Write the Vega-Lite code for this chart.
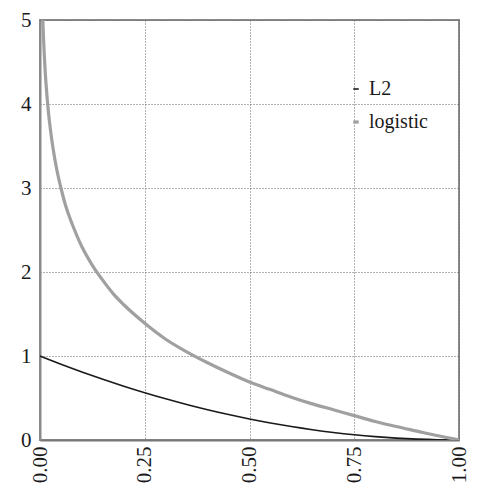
{
  "$schema": "https://vega.github.io/schema/vega-lite/v6.json",
  "width": 419,
  "height": 420,
  "autosize": {"type": "none"},
  "padding": {"left": 40, "top": 20, "right": 27, "bottom": 49},
  "background": "white",
  "config": {
    "view": {"stroke": "#8a8a8a", "strokeWidth": 2},
    "font": "Liberation Serif"
  },
  "data": {
    "values": [
      {"x": 0.0, "y": 1.0, "loss": "L2"},
      {"x": 0.05, "y": 0.9025, "loss": "L2"},
      {"x": 0.1, "y": 0.81, "loss": "L2"},
      {"x": 0.15, "y": 0.7225, "loss": "L2"},
      {"x": 0.2, "y": 0.64, "loss": "L2"},
      {"x": 0.25, "y": 0.5625, "loss": "L2"},
      {"x": 0.3, "y": 0.49, "loss": "L2"},
      {"x": 0.35, "y": 0.4225, "loss": "L2"},
      {"x": 0.4, "y": 0.36, "loss": "L2"},
      {"x": 0.45, "y": 0.3025, "loss": "L2"},
      {"x": 0.5, "y": 0.25, "loss": "L2"},
      {"x": 0.55, "y": 0.2025, "loss": "L2"},
      {"x": 0.6, "y": 0.16, "loss": "L2"},
      {"x": 0.65, "y": 0.1225, "loss": "L2"},
      {"x": 0.7, "y": 0.09, "loss": "L2"},
      {"x": 0.75, "y": 0.0625, "loss": "L2"},
      {"x": 0.8, "y": 0.04, "loss": "L2"},
      {"x": 0.85, "y": 0.0225, "loss": "L2"},
      {"x": 0.9, "y": 0.01, "loss": "L2"},
      {"x": 0.95, "y": 0.0025, "loss": "L2"},
      {"x": 1.0, "y": 0.0, "loss": "L2"},
      {"x": 0.0067, "y": 5.0, "loss": "logistic"},
      {"x": 0.008, "y": 4.83, "loss": "logistic"},
      {"x": 0.01, "y": 4.61, "loss": "logistic"},
      {"x": 0.0125, "y": 4.38, "loss": "logistic"},
      {"x": 0.015, "y": 4.2, "loss": "logistic"},
      {"x": 0.02, "y": 3.91, "loss": "logistic"},
      {"x": 0.025, "y": 3.69, "loss": "logistic"},
      {"x": 0.03, "y": 3.51, "loss": "logistic"},
      {"x": 0.04, "y": 3.22, "loss": "logistic"},
      {"x": 0.05, "y": 3.0, "loss": "logistic"},
      {"x": 0.06, "y": 2.81, "loss": "logistic"},
      {"x": 0.07, "y": 2.66, "loss": "logistic"},
      {"x": 0.08, "y": 2.53, "loss": "logistic"},
      {"x": 0.1, "y": 2.3, "loss": "logistic"},
      {"x": 0.125, "y": 2.08, "loss": "logistic"},
      {"x": 0.15, "y": 1.9, "loss": "logistic"},
      {"x": 0.175, "y": 1.74, "loss": "logistic"},
      {"x": 0.2, "y": 1.61, "loss": "logistic"},
      {"x": 0.25, "y": 1.39, "loss": "logistic"},
      {"x": 0.3, "y": 1.2, "loss": "logistic"},
      {"x": 0.35, "y": 1.05, "loss": "logistic"},
      {"x": 0.4, "y": 0.92, "loss": "logistic"},
      {"x": 0.45, "y": 0.8, "loss": "logistic"},
      {"x": 0.5, "y": 0.69, "loss": "logistic"},
      {"x": 0.55, "y": 0.6, "loss": "logistic"},
      {"x": 0.6, "y": 0.51, "loss": "logistic"},
      {"x": 0.65, "y": 0.43, "loss": "logistic"},
      {"x": 0.7, "y": 0.36, "loss": "logistic"},
      {"x": 0.75, "y": 0.29, "loss": "logistic"},
      {"x": 0.8, "y": 0.22, "loss": "logistic"},
      {"x": 0.85, "y": 0.16, "loss": "logistic"},
      {"x": 0.9, "y": 0.105, "loss": "logistic"},
      {"x": 0.95, "y": 0.05, "loss": "logistic"},
      {"x": 1.0, "y": 0.0, "loss": "logistic"}
    ]
  },
  "mark": {"type": "line", "clip": true, "interpolate": "monotone"},
  "encoding": {
    "x": {
      "field": "x",
      "type": "quantitative",
      "scale": {"domain": [0, 1], "nice": false, "zero": false},
      "axis": {
        "title": null,
        "values": [0, 0.25, 0.5, 0.75, 1],
        "format": ".2f",
        "labelAngle": -90,
        "labelAlign": "right",
        "labelBaseline": "middle",
        "labelFont": "Liberation Serif",
        "labelFontSize": 21,
        "labelColor": "#1a1a1a",
        "labelPadding": 6,
        "labelFlush": false,
        "labelOverlap": false,
        "ticks": false,
        "domainColor": "#777",
        "domainWidth": 2,
        "grid": true,
        "gridColor": "#666",
        "gridDash": [1, 2],
        "gridWidth": 1
      }
    },
    "y": {
      "field": "y",
      "type": "quantitative",
      "scale": {"domain": [0, 5], "nice": false},
      "axis": {
        "title": null,
        "values": [0, 1, 2, 3, 4, 5],
        "labelFont": "Liberation Serif",
        "labelFontSize": 21,
        "labelColor": "#1a1a1a",
        "labelPadding": 9,
        "ticks": false,
        "domainColor": "#8a8a8a",
        "domainWidth": 2,
        "grid": true,
        "gridColor": "#666",
        "gridDash": [1, 2],
        "gridWidth": 1
      }
    },
    "color": {
      "field": "loss",
      "type": "nominal",
      "scale": {"domain": ["L2", "logistic"], "range": ["#1a1a1a", "#a0a0a0"]},
      "legend": {
        "title": null,
        "orient": "none",
        "legendX": 306,
        "legendY": 59,
        "symbolType": "stroke",
        "symbolSize": 30,
        "symbolStrokeWidth": 2,
        "labelFont": "Liberation Serif",
        "labelFontSize": 20,
        "labelColor": "#1a1a1a",
        "labelOffset": 3,
        "rowPadding": 13
      }
    },
    "strokeWidth": {
      "field": "loss",
      "type": "nominal",
      "scale": {"domain": ["L2", "logistic"], "range": [1.6, 3.2]},
      "legend": null
    }
  }
}
